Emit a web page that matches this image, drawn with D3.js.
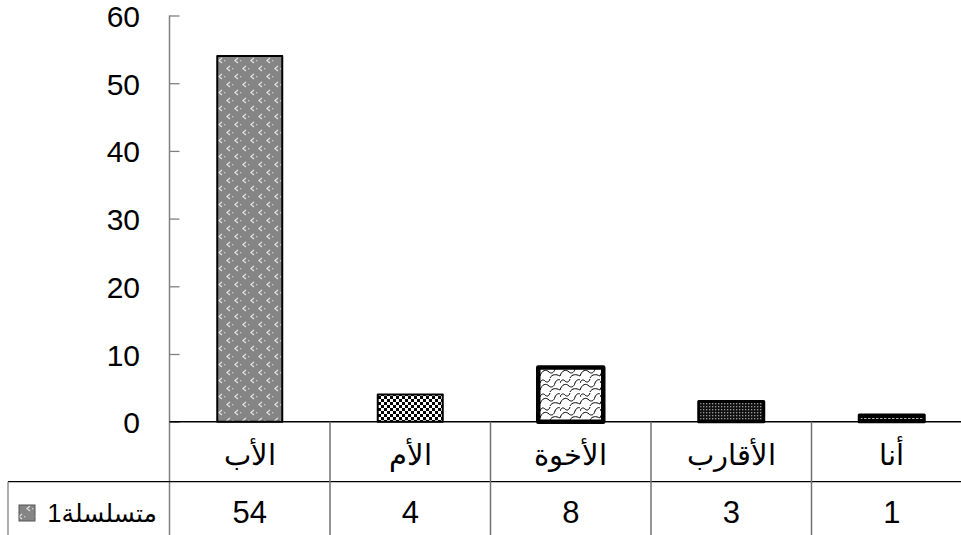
<!DOCTYPE html>
<html>
<head>
<meta charset="utf-8">
<script src="https://cdn.jsdelivr.net/npm/d3@7"></script>
<style>
  html, body { margin: 0; padding: 0; background: #fff; }
  svg { display: block; }
  text { font-family: "Liberation Sans", Arial, "DejaVu Sans", sans-serif; fill: #000; }
</style>
</head>
<body>
<svg id="chart" width="961" height="535"></svg>
<script>
const categories = ["الأب", "الأم", "الأخوة", "الأقارب", "أنا"];
const values = [54, 4, 8, 3, 1];
const seriesName = "متسلسلة1";
const yTicks = [0, 10, 20, 30, 40, 50, 60];

const W = 961, H = 535;
const plotLeft = 169.5, plotRight = 972;
const yTop = 15.5, yBottom = 421.7;
const row2Top = 481.7;
const legendLeft = 8;

const svg = d3.select("#chart");

// patterns
const defs = svg.append("defs");
function pat(id, w, h) {
  return defs.append("pattern").attr("id", id).attr("patternUnits", "userSpaceOnUse")
    .attr("width", w).attr("height", h);
}
// 1: gray confetti
{
  const p = pat("p0", 16, 16);
  p.append("rect").attr("width", 16).attr("height", 16).attr("fill", "#858585");
  const marks = [[3, 2], [11, 10]];
  marks.forEach(([x, y]) => {
    p.append("path").attr("d", `M${x + 3},${y} L${x},${y + 2.5} L${x + 3},${y + 5}`)
      .attr("fill", "none").attr("stroke", "#dcdcdc").attr("stroke-width", 1.4);
  });
  p.append("rect").attr("x", 8).attr("y", 4).attr("width", 1.4).attr("height", 1.4).attr("fill", "#c8c8c8");
  p.append("rect").attr("x", 0).attr("y", 12).attr("width", 1.4).attr("height", 1.4).attr("fill", "#c8c8c8");
}
// 2: checkerboard
{
  const p = pat("p1", 6, 6);
  p.append("rect").attr("width", 6).attr("height", 6).attr("fill", "#fff");
  p.append("rect").attr("width", 3).attr("height", 3).attr("fill", "#000");
  p.append("rect").attr("x", 3).attr("y", 3).attr("width", 3).attr("height", 3).attr("fill", "#000");
}
// 3: shingles
{
  const p = pat("p2", 20, 14);
  p.append("rect").attr("width", 20).attr("height", 14).attr("fill", "#fff");
  p.append("path")
    .attr("d", "M0,12 C2,6 6,5 9,8 C11,10 14,9 15,5 C16,2 19,1 20,2 M0,5 C1,2 3,1 5,3 M10,14 C12,10 16,10 20,12 M5,3 C7,5 9,4 10,1")
    .attr("fill", "none").attr("stroke", "#000").attr("stroke-width", 1);
}
// 4: dark grid dots
{
  const p = pat("p3", 3, 3);
  p.append("rect").attr("width", 3).attr("height", 3).attr("fill", "#111");
  p.append("rect").attr("x", 1).attr("y", 1).attr("width", 1.3).attr("height", 1.3).attr("fill", "#9a9a9a");
}
// 5: black with dashes
{
  const p = pat("p4", 4, 4);
  p.append("rect").attr("width", 4).attr("height", 4).attr("fill", "#000");
  p.append("rect").attr("x", 0).attr("y", 2).attr("width", 2.5).attr("height", 1).attr("fill", "#aaa");
}
const fills = ["url(#p0)", "url(#p1)", "url(#p2)", "url(#p3)", "url(#p4)"];
const strokeW = [2, 2, 4.5, 3, 3];

const xCell = d3.scaleBand().domain(categories).range([plotLeft, plotRight]).padding(0);
const xBar = d3.scaleBand().domain(categories).range([plotLeft, plotRight])
  .paddingInner(0.595).paddingOuter(0.2975);
const y = d3.scaleLinear().domain([0, 60]).range([yBottom, yTop]);

// bars
svg.append("g").selectAll("rect").data(categories).join("rect")
  .attr("x", d => xBar(d))
  .attr("width", xBar.bandwidth())
  .attr("y", (d, i) => y(values[i]))
  .attr("height", (d, i) => y(0) - y(values[i]))
  .attr("fill", (d, i) => fills[i])
  .attr("stroke", "#000")
  .attr("stroke-width", (d, i) => strokeW[i])
  .attr("stroke-linejoin", "round");

// y axis
const yAxis = d3.axisRight(y).tickValues(yTicks).tickSize(10).tickFormat("");
const ga = svg.append("g").attr("transform", `translate(${plotLeft},0)`).call(yAxis);
ga.select(".domain").remove();
ga.selectAll(".tick line").attr("stroke", "#808080").attr("stroke-width", 1.3);
svg.append("line").attr("x1", plotLeft).attr("x2", plotLeft).attr("y1", yTop).attr("y2", H)
  .attr("stroke", "#808080").attr("stroke-width", 1.5);

svg.append("g").selectAll("text").data(yTicks).join("text")
  .attr("x", 140).attr("y", d => y(d) + 1)
  .attr("text-anchor", "end").attr("dominant-baseline", "central")
  .style("font-size", "30px").text(d => d);

// table lines
svg.append("line").attr("x1", plotLeft).attr("x2", W).attr("y1", yBottom).attr("y2", yBottom)
  .attr("stroke", "#000").attr("stroke-width", 1.5);
svg.append("line").attr("x1", legendLeft).attr("x2", W).attr("y1", row2Top).attr("y2", row2Top)
  .attr("stroke", "#000").attr("stroke-width", 1.3);
svg.append("line").attr("x1", legendLeft).attr("x2", legendLeft).attr("y1", row2Top).attr("y2", H)
  .attr("stroke", "#808080").attr("stroke-width", 1.3);
svg.append("g").selectAll("line").data(categories.slice(1)).join("line")
  .attr("x1", d => xCell(d)).attr("x2", d => xCell(d))
  .attr("y1", yBottom).attr("y2", H)
  .attr("stroke", "#707070").attr("stroke-width", 1.5);

// category labels
svg.append("g").selectAll("text").data(categories).join("text")
  .attr("x", d => xCell(d) + xCell.bandwidth() / 2)
  .attr("y", 465)
  .attr("text-anchor", "middle")
  .style("font-size", "29px").style("font-weight", "300").text(d => d);

// values row
svg.append("g").selectAll("text").data(categories).join("text")
  .attr("x", d => xCell(d) + xCell.bandwidth() / 2)
  .attr("y", 523)
  .attr("text-anchor", "middle")
  .style("font-size", "31px").text((d, i) => values[i]);

// legend
svg.append("rect").attr("x", 19).attr("y", 505).attr("width", 16).attr("height", 16)
  .attr("fill", "url(#p0)").attr("stroke", "#555").attr("stroke-width", 1);
svg.append("text").attr("x", 157).attr("y", 522).attr("text-anchor", "end")
  .style("font-size", "25px").text(seriesName);
</script>
</body>
</html>
